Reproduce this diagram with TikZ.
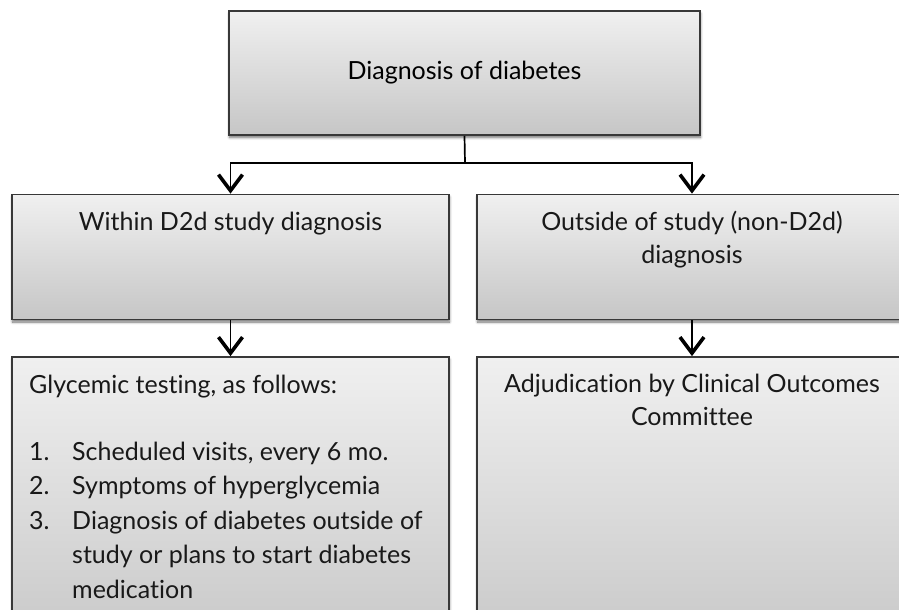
\documentclass[tikz,border=0pt]{standalone}
\usepackage{fontspec}
\setmainfont{Lato}[Ligatures=NoCommon]
\usetikzlibrary{arrows.meta,positioning,shadows.blur}
\definecolor{boxline}{HTML}{383838}
\definecolor{boxtop}{HTML}{F0F0F0}
\definecolor{boxbottom}{HTML}{C6C6C6}

\begin{document}
\begin{tikzpicture}[x=1pt, y=-1pt,
      box/.style={draw=boxline, line width=1.8pt, top color=boxtop, bottom color=boxbottom,
                  inner sep=0pt, font=\fontsize{25}{34}\selectfont,
                  blur shadow={shadow xshift=0.5pt, shadow yshift=-2.5pt, shadow blur steps=6,
                               shadow blur radius=2.5pt, shadow opacity=55}},
      txt/.style={inner sep=0pt, font=\fontsize{25}{33}\selectfont, text=black!90},
      arr/.style={-{Straight Barb[length=16pt, width=24pt, line width=3.6pt]}, line width=1.7pt, black},
      link/.style={line width=1.7pt, black}
    ]
      \clip (0,0) rectangle (899,610);
      \useasboundingbox (0,0) rectangle (899,610);

      % Row 1: diagnosis
      \node[box, minimum width=471pt, minimum height=124pt] (diag) at (464.5,73) {Diagnosis of diabetes};

      % Row 2: where the diagnosis is made
      \node[box, minimum width=437pt, minimum height=125pt] (within) at (230.5,257) {};
      \node[box, minimum width=430pt, minimum height=125pt] (outside) at (692,257) {};
      \node[txt, below=18pt of within.north] (withintxt) {Within D2d study diagnosis};
      \node[txt, below=17pt of outside.north, align=center] (outsidetxt) {Outside of study (non-D2d)\\diagnosis};

      % Row 3: what follows
      \node[box, minimum width=437pt, minimum height=302pt] (glyc) at (230.5,508) {};
      \node[box, minimum width=430pt, minimum height=302pt] (adjud) at (692,508) {};
      \node[txt, font=\fontsize{25}{34.5}\selectfont, align=left, anchor=north west]
        (glyctxt) at (29,375) {Glycemic testing, as follows:\\[32pt]
        \makebox[43pt][l]{1.}Scheduled visits, every 6 mo.\\
        \makebox[43pt][l]{2.}Symptoms of hyperglycemia\\
        \makebox[43pt][l]{3.}Diagnosis of diabetes outside of\\
        \hspace*{43pt}study or plans to start diabetes\\
        \hspace*{43pt}medication};
      \node[txt, below=18pt of adjud.north, align=center] (adjudtxt) {Adjudication by Clinical Outcomes\\Committee};

      % Connectors
      \coordinate (split) at (465,163);
      \draw[link] (diag.south) -- (split);
      \draw[arr] (split) -| (within.north);
      \draw[arr] (split) -| (outside.north);
      \draw[arr] (within.south) -- (glyc.north);
      \draw[arr] (outside.south) -- (adjud.north);
    \end{tikzpicture}
\end{document}
